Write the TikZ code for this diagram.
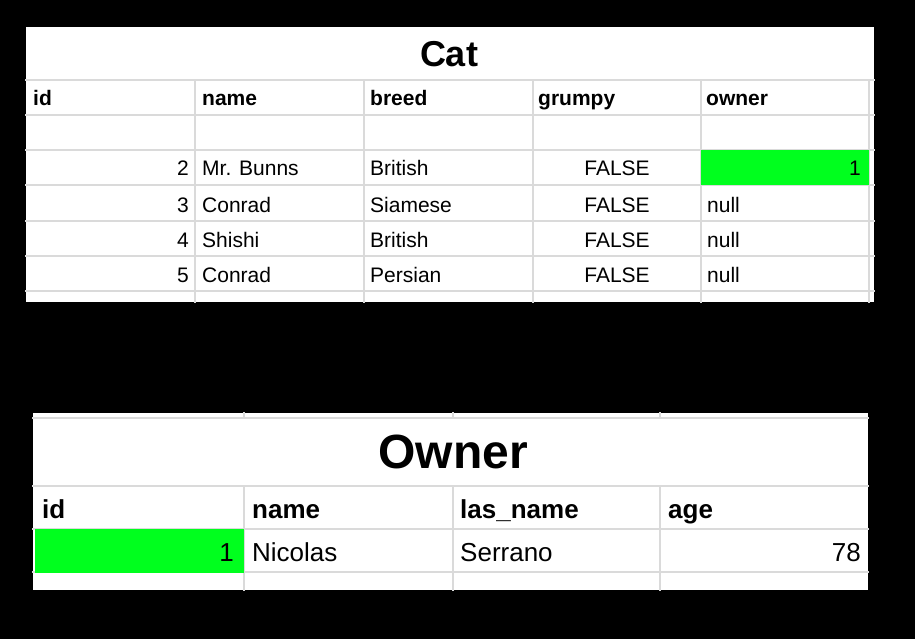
\documentclass[tikz,border=0pt]{standalone}
\usepackage{fontspec}
\setmainfont{Liberation Sans}
\definecolor{gridgray}{RGB}{218,218,218}
\definecolor{cellgreen}{RGB}{0,255,30}
\begin{document}
\begin{tikzpicture}[x=1pt,y=-1pt, line cap=rect, every node/.style={inner sep=0pt},
	gridline/.style={gridgray, line width=1.5pt},
	catcell/.style={font=\fontsize{21}{21}\selectfont},
	cathead/.style={font=\fontsize{21}{21}\bfseries\selectfont},
	owncell/.style={font=\fontsize{26}{26}\selectfont},
	ownhead/.style={font=\fontsize{26}{26}\bfseries\selectfont}]
	\fill[black] (0,0) rectangle (915,639);
	% Cat table
	\def\catl{26} \def\catr{874} \def\catt{27} \def\catb{302}
	\fill[white] (\catl,\catt) rectangle (\catr,\catb);
	\foreach \y in {80,115,150,185,221,256,291}
	\draw[gridline] (\catl,\y)--(\catr,\y);
	\foreach \x in {195,364,533,701,869}
	\draw[gridline] (\x,80)--(\x,\catb);
	\fill[cellgreen] (701,150) rectangle (869,185.5);
	\node (cat-title) at (449,67) [anchor=base, font=\fontsize{36}{36}\bfseries\selectfont]{Cat};
	\foreach \x/\t in {33/id,202/name,370/breed,538/grumpy,706/owner}
	\node (cat-head-\t) at (\x,106) [anchor=base west, cathead]{\t};
	\foreach \i/\n/\b/\y in {2/Mr. Bunns/British/176,3/Conrad/Siamese/212,4/Shishi/British/247,5/Conrad/Persian/282}
	{\node (cat-id-\i) at (189,\y) [anchor=base east, catcell]{\i};
		\node (cat-name-\i) at (202,\y) [anchor=base west, catcell]{\n};
		\node (cat-breed-\i) at (370,\y) [anchor=base west, catcell]{\b};
		\node (cat-grumpy-\i) at (617,\y) [anchor=base, catcell]{FALSE};}
	\node (cat-owner-2) at (861,176) [anchor=base east, catcell]{1};
	\foreach \i/\y in {3/212,4/247,5/282}
	\node (cat-owner-\i) at (707,\y) [anchor=base west, catcell]{null};
	% Owner table
	\def\ownl{33} \def\ownr{868} \def\ownt{413} \def\ownb{590}
	\fill[white] (\ownl,\ownt) rectangle (\ownr,\ownb);
	\foreach \y in {418,486,529,572}
	\draw[gridline] (\ownl,\y)--(\ownr,\y);
	\foreach \x in {244,453,660}
	\draw[gridline] (\x,\ownt)--(\x,418) (\x,486)--(\x,\ownb);
	\fill[cellgreen] (35,529) rectangle (244,573);
	\node (own-title) at (453,468) [anchor=base, font=\fontsize{48}{48}\bfseries\selectfont]{Owner};
	\foreach \x/\t in {42/id,252/name,460/las\_name,668/age}
	\node (own-head-\x) at (\x,518) [anchor=base west, ownhead]{\t};
	\node (own-id) at (234,561) [anchor=base east, owncell]{1};
	\node (own-name) at (252,561) [anchor=base west, owncell]{Nicolas};
	\node (own-lasname) at (460,561) [anchor=base west, owncell]{Serrano};
	\node (own-age) at (861,561) [anchor=base east, owncell]{78};
\end{tikzpicture}
\end{document}
